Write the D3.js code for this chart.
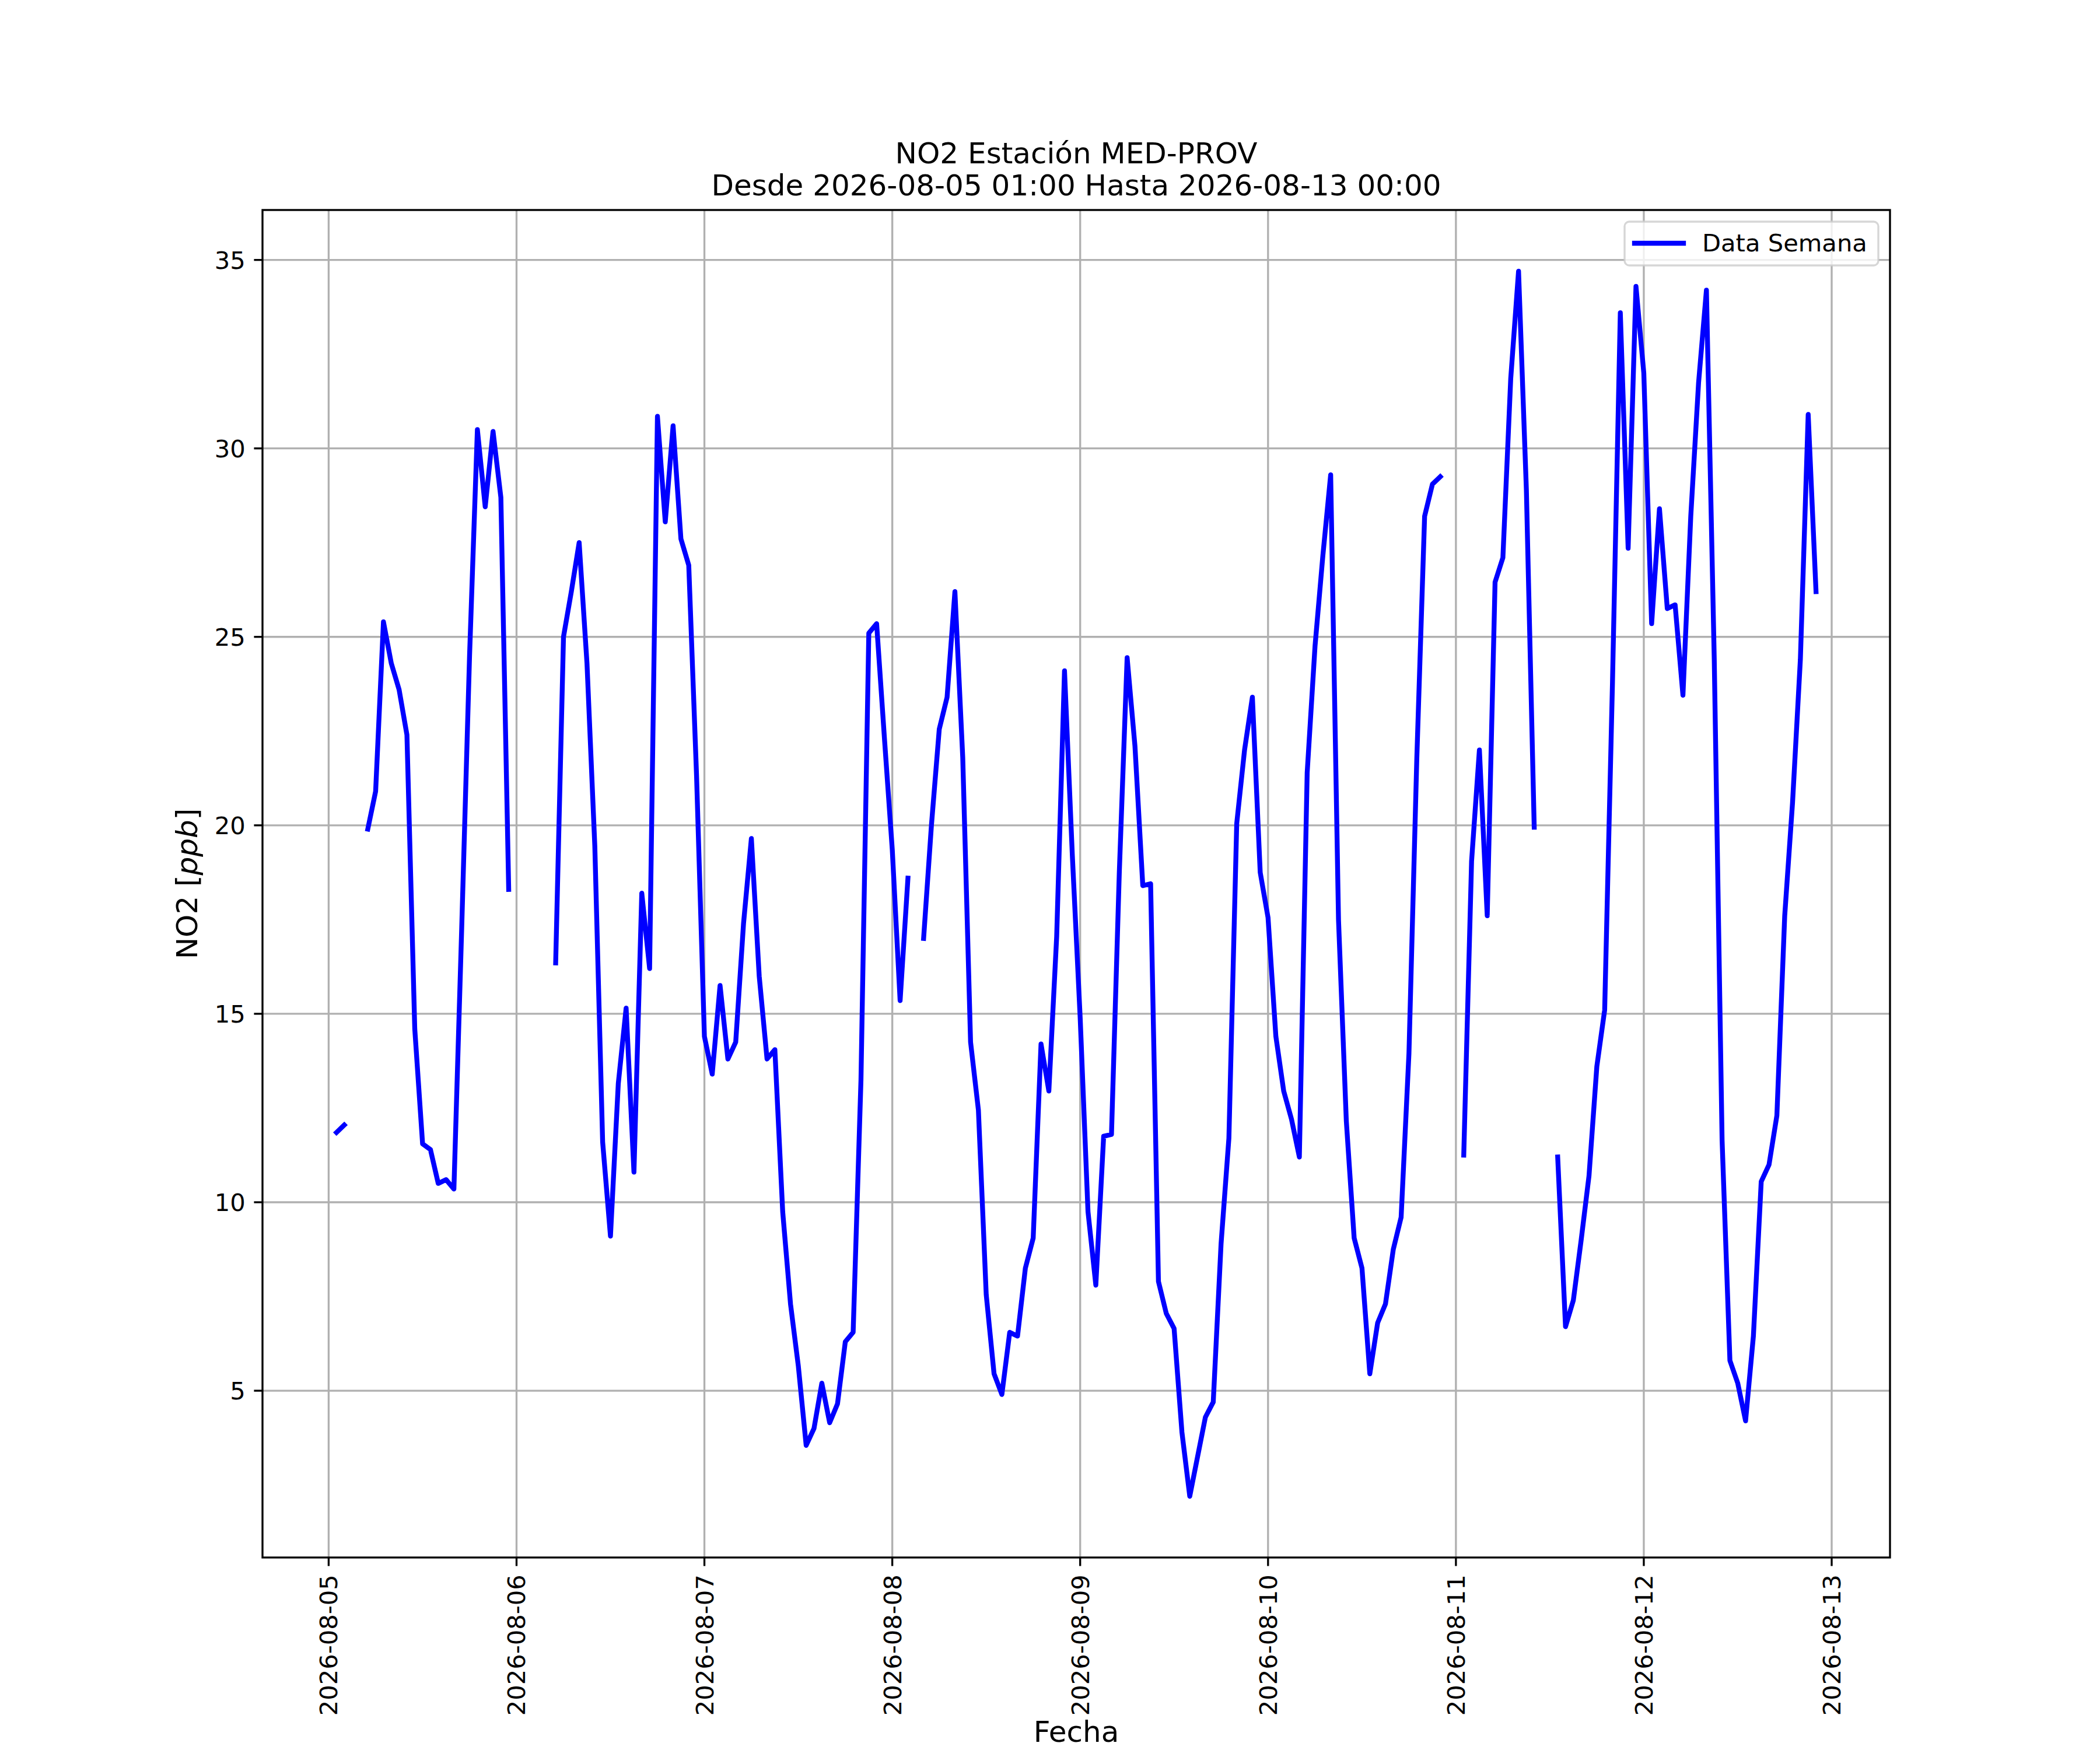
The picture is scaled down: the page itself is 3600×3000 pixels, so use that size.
<!DOCTYPE html>
<html>
<head>
<meta charset="utf-8">
<script src="https://cdn.jsdelivr.net/npm/d3@7"></script>
<style>
  html, body { margin: 0; padding: 0; background: #ffffff; }
  svg { display: block; }
  text { font-family: "DejaVu Sans", sans-serif; fill: #000; }
</style>
</head>
<body>
<script>
// ---------------- DATA ----------------
const titleLines = ["NO2 Estación MED-PROV", "Desde 2026-08-05 01:00 Hasta 2026-08-13 00:00"];
const xLabel = "Fecha";
const legendLabel = "Data Semana";
const firstTimestamp = "2026-08-05T01:00:00Z";   // hourly series, null = missing

// 2026-08-05 01:00 .. 23:00
const day05 = [11.85, 12.05, null, null, 19.9, 20.9, 25.4, 24.3, 23.6, 22.4, 14.6, 11.55,
               11.4, 10.5, 10.6, 10.35, 17.3, 24.5, 30.5, 28.45, 30.45, 28.7, 18.3];
// 2026-08-06 00:00 .. 23:00
const day06 = [null, null, null, null, null, 16.35, 25.0, 26.2, 27.5, 24.3, 19.45, 11.6,
               9.1, 13.15, 15.15, 10.8, 18.2, 16.2, 30.85, 28.05, 30.6, 27.6, 26.9, 21.3];
const day07 = [14.4, 13.4, 15.75, 13.8, 14.25, 17.4, 19.65, 16.0, 13.8, 14.05, 9.75, 7.3,
               5.65, 3.55, 4.0, 5.2, 4.15, 4.65, 6.3, 6.55, 13.25, 25.1, 25.35, 22.3];
const day08 = [19.35, 15.35, 18.6, null, 17.0, 20.0, 22.55, 23.4, 26.2, 21.8, 14.25, 12.45,
               7.55, 5.45, 4.9, 6.55, 6.45, 8.25, 9.05, 14.2, 12.95, 17.05, 24.1, 19.2];
const day09 = [14.9, 9.75, 7.8, 11.75, 11.8, 18.75, 24.45, 22.1, 18.4, 18.45, 7.9, 7.05,
               6.65, 3.9, 2.2, 3.25, 4.3, 4.7, 8.9, 11.7, 20.05, 22.0, 23.4, 18.75];
const day10 = [17.55, 14.4, 12.95, 12.2, 11.2, 21.4, 24.75, 27.15, 29.3, 17.5, 12.15, 9.05,
               8.25, 5.45, 6.8, 7.3, 8.75, 9.6, 13.95, 21.75, 28.2, 29.05, 29.25, null];
const day11 = [null, 11.25, 19.05, 22.0, 17.6, 26.45, 27.1, 31.85, 34.7, 28.9, 19.95, null,
               null, 11.2, 6.7, 7.4, 9.0, 10.7, 13.6, 15.1, 23.8, 33.6, 27.35, 34.3];
// 2026-08-12 00:00 .. 22:00
const day12 = [32.0, 25.35, 28.4, 25.75, 25.85, 23.45, 28.2, 31.75, 34.2, 24.4, 11.65, 5.8,
               5.2, 4.2, 6.45, 10.55, 11.0, 12.3, 17.6, 20.6, 24.4, 30.9, 26.2];

const xTickDates = ["2026-08-05", "2026-08-06", "2026-08-07", "2026-08-08", "2026-08-09",
                    "2026-08-10", "2026-08-11", "2026-08-12", "2026-08-13"];
const yTickValues = [5, 10, 15, 20, 25, 30, 35];

// ---------------- LAYOUT ----------------
const W = 3600, H = 3000;
const PT = 300 / 72;                 // px per point
const axL = 450, axR = 3240, axT = 360, axB = 2670;
const fsTick = 10 * PT, fsLabel = 12 * PT;
const lwAxis = 0.8 * PT, tickLen = 3.5 * PT, tickPad = 3.5 * PT;

const values = [].concat(day05, day06, day07, day08, day09, day10, day11, day12);
const t0 = d3.isoParse(firstTimestamp);
const series = values.map((v, i) => ({ t: d3.utcHour.offset(t0, i), v: v }));

const tExt = d3.extent(series, d => d.t);
const tPad = (tExt[1] - tExt[0]) * 0.05;
const x = d3.scaleUtc()
  .domain([new Date(+tExt[0] - tPad), new Date(+tExt[1] + tPad)])
  .range([axL, axR]);

const vExt = d3.extent(series.filter(d => d.v != null), d => d.v);
const vPad = (vExt[1] - vExt[0]) * 0.05;
const y = d3.scaleLinear()
  .domain([vExt[0] - vPad, vExt[1] + vPad])
  .range([axB, axT]);

const svg = d3.select("body").append("svg")
  .attr("width", W).attr("height", H)
  .attr("viewBox", `0 0 ${W} ${H}`);

svg.append("rect").attr("width", W).attr("height", H).attr("fill", "#fff");

svg.append("defs").append("clipPath").attr("id", "plotclip")
  .append("rect").attr("x", axL).attr("y", axT)
  .attr("width", axR - axL).attr("height", axB - axT);

const xTicks = xTickDates.map(s => d3.isoParse(s + "T00:00:00Z"));
const fmt = d3.utcFormat("%Y-%m-%d");

// grid
const grid = svg.append("g").attr("stroke", "#b0b0b0").attr("stroke-width", lwAxis);
grid.selectAll("line.gx").data(xTicks).join("line").attr("class", "gx")
  .attr("x1", d => x(d)).attr("x2", d => x(d))
  .attr("y1", axT).attr("y2", axB);
grid.selectAll("line.gy").data(yTickValues).join("line").attr("class", "gy")
  .attr("x1", axL).attr("x2", axR)
  .attr("y1", d => y(d)).attr("y2", d => y(d));

// data line
const line = d3.line()
  .defined(d => d.v != null)
  .x(d => x(d.t))
  .y(d => y(d.v));

svg.append("path")
  .datum(series)
  .attr("clip-path", "url(#plotclip)")
  .attr("d", line)
  .attr("fill", "none")
  .attr("stroke", "#0000ff")
  .attr("stroke-width", 2 * PT)
  .attr("stroke-linejoin", "round")
  .attr("stroke-linecap", "square");

// spines
svg.append("rect")
  .attr("x", axL).attr("y", axT)
  .attr("width", axR - axL).attr("height", axB - axT)
  .attr("fill", "none").attr("stroke", "#000").attr("stroke-width", lwAxis);

// x axis ticks + labels
const xa = svg.append("g");
xa.selectAll("line").data(xTicks).join("line")
  .attr("x1", d => x(d)).attr("x2", d => x(d))
  .attr("y1", axB).attr("y2", axB + tickLen)
  .attr("stroke", "#000").attr("stroke-width", lwAxis);
xa.selectAll("text").data(xTicks).join("text")
  .attr("transform", d => `translate(${x(d)},${axB + tickLen + tickPad}) rotate(-90)`)
  .attr("text-anchor", "end")
  .attr("dy", "0.36em")
  .attr("font-size", fsTick)
  .text(d => fmt(d));

// y axis ticks + labels
const ya = svg.append("g");
ya.selectAll("line").data(yTickValues).join("line")
  .attr("x1", axL - tickLen).attr("x2", axL)
  .attr("y1", d => y(d)).attr("y2", d => y(d))
  .attr("stroke", "#000").attr("stroke-width", lwAxis);
ya.selectAll("text").data(yTickValues).join("text")
  .attr("x", axL - tickLen - tickPad)
  .attr("y", d => y(d))
  .attr("dy", "0.36em")
  .attr("text-anchor", "end")
  .attr("font-size", fsTick)
  .text(d => d);

// axis labels
svg.append("text")
  .attr("x", (axL + axR) / 2).attr("y", 2986)
  .attr("text-anchor", "middle").attr("font-size", fsLabel)
  .text(xLabel);

const yl = svg.append("text")
  .attr("transform", `translate(338,${(axT + axB) / 2}) rotate(-90)`)
  .attr("text-anchor", "middle").attr("font-size", fsLabel);
yl.append("tspan").text("NO2 [");
yl.append("tspan").attr("font-style", "italic").text("ppb");
yl.append("tspan").text("]");

// title
svg.append("g").selectAll("text").data(titleLines).join("text")
  .attr("x", (axL + axR) / 2)
  .attr("y", (d, i) => 280 + i * 55)
  .attr("text-anchor", "middle")
  .attr("font-size", fsLabel)
  .text(d => d);

// legend
const lg = svg.append("g");
lg.append("rect")
  .attr("x", 2785).attr("y", 380).attr("width", 435).attr("height", 75)
  .attr("rx", 8).attr("ry", 8)
  .attr("fill", "#ffffff").attr("fill-opacity", 0.8)
  .attr("stroke", "#cccccc").attr("stroke-opacity", 0.8).attr("stroke-width", lwAxis);
lg.append("line")
  .attr("x1", 2802).attr("x2", 2886).attr("y1", 417).attr("y2", 417)
  .attr("stroke", "#0000ff").attr("stroke-width", 2 * PT).attr("stroke-linecap", "square");
lg.append("text")
  .attr("x", 2918).attr("y", 431)
  .attr("font-size", fsTick)
  .text(legendLabel);
</script>
</body>
</html>
